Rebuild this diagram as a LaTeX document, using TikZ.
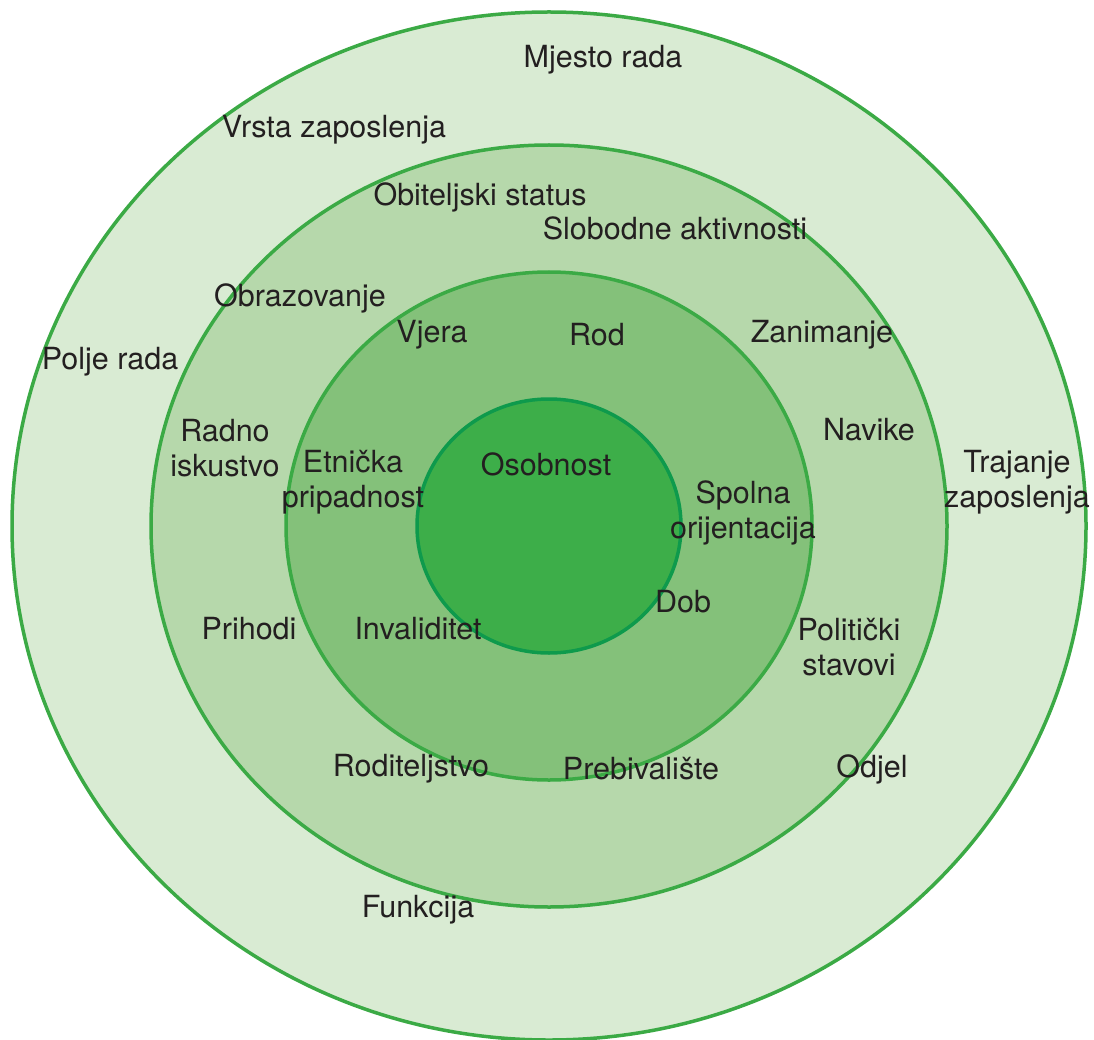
\documentclass[tikz,border=0pt]{standalone}
\usepackage{fontspec}
\setmainfont{TeX Gyre Heros}
\definecolor{ring1}{HTML}{D9EBD3}
\definecolor{ring2}{HTML}{B6D8AB}
\definecolor{ring3}{HTML}{84C17A}
\definecolor{ring4}{HTML}{3DAE49}
\definecolor{edge}{HTML}{3BAA45}
\definecolor{edgedark}{HTML}{0E9A4C}
\definecolor{txt}{HTML}{231F20}
\begin{document}
\begin{tikzpicture}[x=1pt,y=-1pt,
  ringline/.style={line width=3.5pt, draw=edge},
  lbl/.style={align=center, text=txt, inner sep=0pt, font=\fontsize{30.5}{35}\selectfont}]
\useasboundingbox (0,0) rectangle (1094,1040);
\coordinate (c) at (549,526);
\path[ringline, fill=ring1] (c) ellipse [x radius=537pt, y radius=514pt];
\path[ringline, fill=ring2] (c) ellipse [x radius=398pt, y radius=381pt];
\path[ringline, fill=ring3] (c) ellipse [x radius=263pt, y radius=254pt];
\path[line width=3.5pt, draw=edgedark, fill=ring4] (c) ellipse [x radius=132pt, y radius=127pt];

\node[lbl] (mjesto) at (603,60) {Mjesto rada};
\node[lbl] (vrsta) at (334,130) {Vrsta zaposlenja};
\node[lbl] (obit) at (480,197) {Obiteljski status};
\node[lbl] (slob) at (675,228) {Slobodne aktivnosti};
\node[lbl] (obraz) at (300,298) {Obrazovanje};
\node[lbl] (vjera) at (432,335) {Vjera};
\node[lbl] (rod) at (597,335) {Rod};
\node[lbl] (zanim) at (822,335) {Zanimanje};
\node[lbl] (polje) at (110,362) {Polje rada};
\node[lbl] (radno) at (225,448) {Radno\\iskustvo};
\node[lbl] (navike) at (869,430) {Navike};
\node[lbl] (trajanje) at (1017,482) {Trajanje\\zaposlenja};
\node[lbl] (etn) at (353,482) {Etnička\\pripadnost};
\node[lbl] (osob) at (546,464) {Osobnost};
\node[lbl] (spol) at (743,513) {Spolna\\orijentacija};
\node[lbl] (dob) at (683,602) {Dob};
\node[lbl] (prih) at (249,629) {Prihodi};
\node[lbl] (inval) at (418,629) {Invaliditet};
\node[lbl] (polit) at (849,647) {Politički\\stavovi};
\node[lbl] (rodit) at (411,769) {Roditeljstvo};
\node[lbl] (preb) at (641,769) {Prebivalište};
\node[lbl] (odjel) at (872,769) {Odjel};
\node[lbl] (funk) at (418,910) {Funkcija};
\end{tikzpicture}
\end{document}
